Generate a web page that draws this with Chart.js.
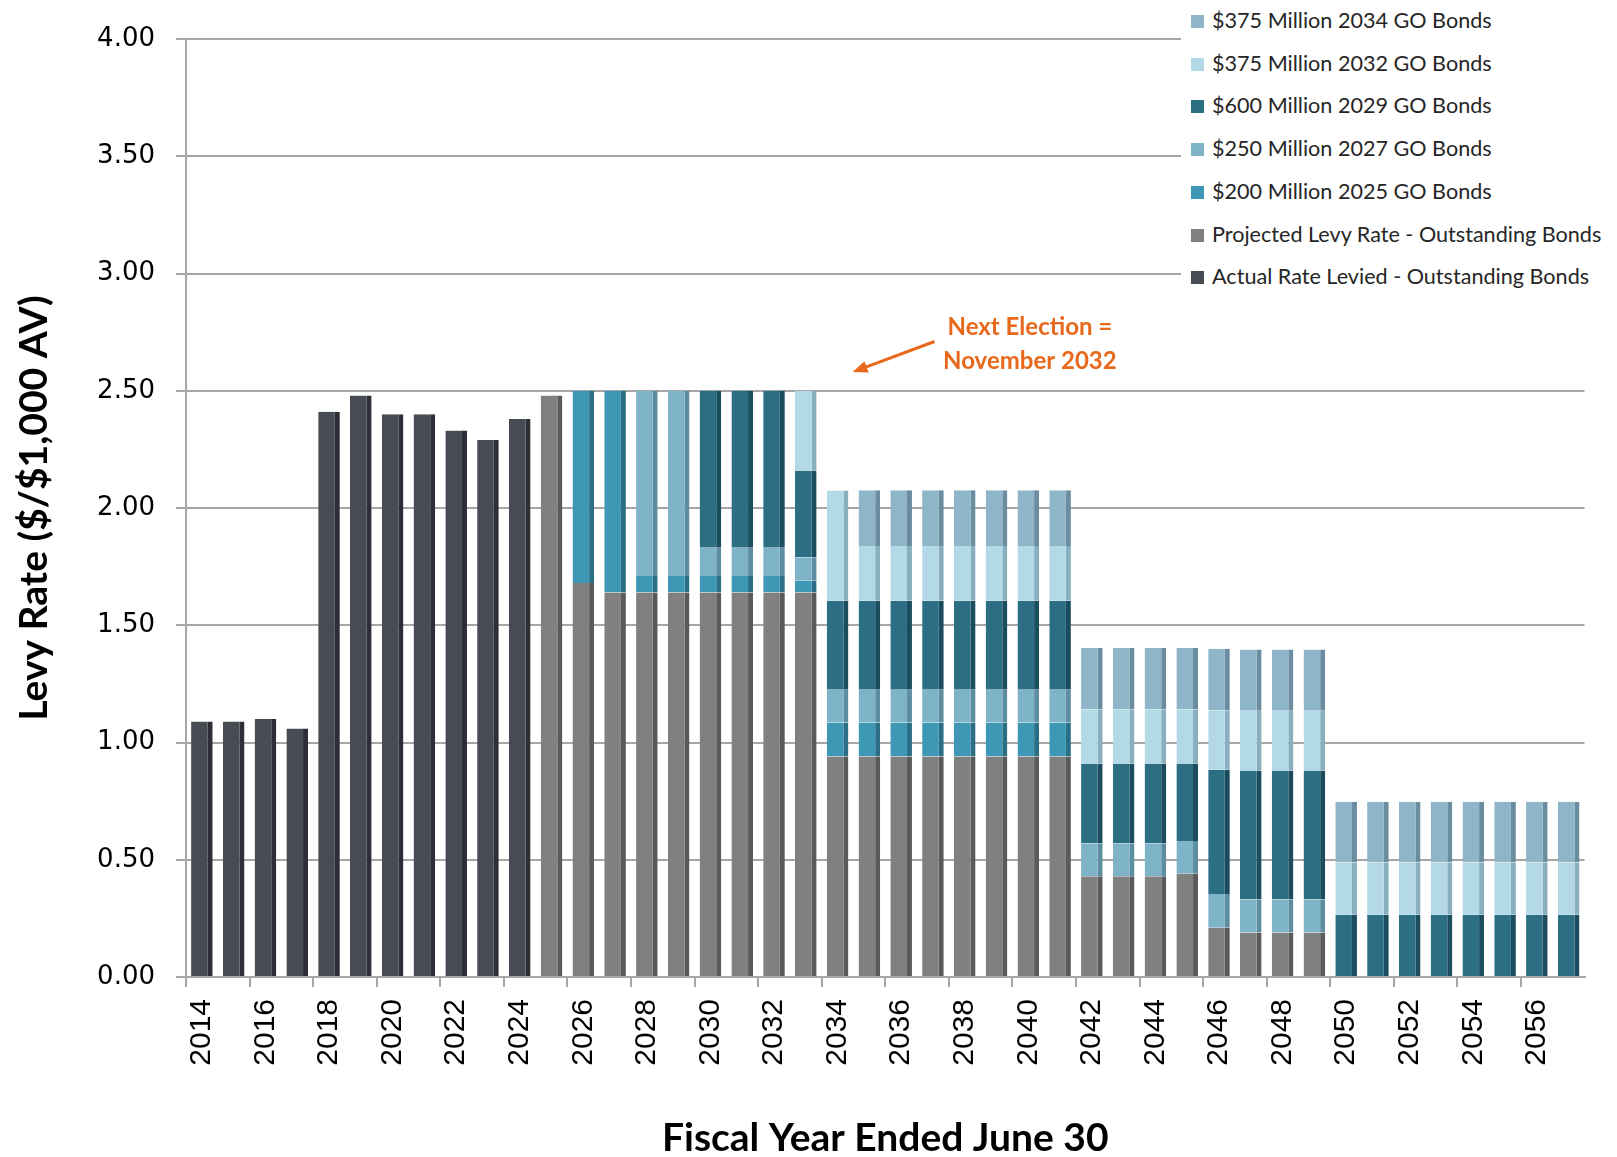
<!DOCTYPE html>
<html><head><meta charset="utf-8">
<script src="https://cdn.jsdelivr.net/npm/chart.js@4.4.1/dist/chart.umd.min.js"></script>
<style>
html,body{margin:0;padding:0;background:#fff;}
#wrap{position:relative;width:1617px;height:1157px;}
#legend{position:absolute;left:1181px;top:0;width:436px;height:295px;background:#fff;font-family:Lato,sans-serif;font-size:21.6px;color:#262626;}
.li{position:absolute;left:10px;height:26px;line-height:26px;white-space:nowrap;}
.sw{display:inline-block;width:13px;height:13px;margin-right:8px;vertical-align:middle;position:relative;top:-1px}
</style></head><body>
<div id="wrap"><canvas id="c" width="1617" height="1157"></canvas><div id="legend"></div></div>
<script>
const years = ['2014','2015','2016','2017','2018','2019','2020','2021','2022','2023','2024','2025','2026','2027','2028','2029','2030','2031','2032','2033','2034','2035','2036','2037','2038','2039','2040','2041','2042','2043','2044','2045','2046','2047','2048','2049','2050','2051','2052','2053','2054','2055','2056','2057'];
const actualRate = [1.09,1.09,1.10,1.06,2.41,2.48,2.40,2.40,2.33,2.29,2.38,null,null,null,null,null,null,null,null,null,null,null,null,null,null,null,null,null,null,null,null,null,null,null,null,null,null,null,null,null,null,null,null,null];
const projectedRate = [null,null,null,null,null,null,null,null,null,null,null,2.48,1.68,1.64,1.64,1.64,1.64,1.64,1.64,1.64,0.94,0.94,0.94,0.94,0.94,0.94,0.94,0.94,0.43,0.43,0.43,0.44,0.21,0.19,0.19,0.19,null,null,null,null,null,null,null,null];
const bonds2025 = [null,null,null,null,null,null,null,null,null,null,null,null,0.82,0.86,0.07,0.07,0.07,0.07,0.07,0.05,0.145,0.145,0.145,0.145,0.145,0.145,0.145,0.145,null,null,null,null,null,null,null,null,null,null,null,null,null,null,null,null];
const bonds2027 = [null,null,null,null,null,null,null,null,null,null,null,null,null,null,0.79,0.79,0.12,0.12,0.12,0.10,0.14,0.14,0.14,0.14,0.14,0.14,0.14,0.14,0.14,0.14,0.14,0.14,0.144,0.141,0.141,0.141,null,null,null,null,null,null,null,null];
const bonds2029 = [null,null,null,null,null,null,null,null,null,null,null,null,null,null,null,null,0.67,0.67,0.67,0.37,0.38,0.38,0.38,0.38,0.38,0.38,0.38,0.38,0.34,0.34,0.34,0.33,0.53,0.55,0.55,0.55,0.265,0.265,0.265,0.265,0.265,0.265,0.265,0.265];
const bonds2032 = [null,null,null,null,null,null,null,null,null,null,null,null,null,null,null,null,null,null,null,0.34,0.47,0.233,0.233,0.233,0.233,0.233,0.233,0.233,0.232,0.232,0.232,0.232,0.254,0.254,0.254,0.254,0.223,0.223,0.223,0.223,0.223,0.223,0.223,0.223];
const bonds2034 = [null,null,null,null,null,null,null,null,null,null,null,null,null,null,null,null,null,null,null,null,null,0.238,0.238,0.238,0.238,0.238,0.238,0.238,0.262,0.262,0.262,0.262,0.262,0.262,0.262,0.262,0.259,0.259,0.259,0.259,0.259,0.259,0.259,0.259];
const seriesLabels = ['Actual Rate Levied - Outstanding Bonds','Projected Levy Rate - Outstanding Bonds','$200 Million 2025 GO Bonds','$250 Million 2027 GO Bonds','$600 Million 2029 GO Bonds','$375 Million 2032 GO Bonds','$375 Million 2034 GO Bonds'];
const yTicks = [0,0.5,1,1.5,2,2.5,3,3.5,4];
const noteLines = ['Next Election =','November 2032'];

const faceColors = ['#474B54','#808080','#3E97B5','#7FB3C8','#2C6F85','#B3D9E6','#8FB5C8'];
const sideColors = ['#2C2F35','#5A5A5A','#2B6F87','#5D8DA0','#1C4D5E','#87AFBD','#6A8DA0'];
const seriesData = [actualRate, projectedRate, bonds2025, bonds2027, bonds2029, bonds2032, bonds2034];

const datasets = seriesData.map((d,i)=>({
  label: seriesLabels[i], data: d,
  backgroundColor: faceColors[i], borderColor: sideColors[i],
  borderWidth: {left:0, right:5, top:0, bottom:0}, borderSkipped: false,
  barPercentage: 0.68, categoryPercentage: 1.0
}));

const annotationPlugin = {
  id: 'note',
  afterDatasetsDraw(chart){
    const ctx = chart.ctx, xs = chart.scales.x, ys = chart.scales.y;
    const orange = '#E8691C';
    ctx.save();
    ctx.fillStyle = orange;
    ctx.font = 'bold 24px Lato';
    ctx.textAlign = 'center'; ctx.textBaseline = 'middle';
    const tx = xs.getPixelForValue(26.05);
    ctx.fillText(noteLines[0], tx, ys.getPixelForValue(2.77));
    ctx.fillText(noteLines[1], tx, ys.getPixelForValue(2.625));
    const x1 = xs.getPixelForValue(23.05), y1 = ys.getPixelForValue(2.71);
    const x2 = xs.getPixelForValue(20.47), y2 = ys.getPixelForValue(2.58);
    const ang = Math.atan2(y2-y1, x2-x1);
    ctx.strokeStyle = orange; ctx.lineWidth = 3;
    ctx.beginPath(); ctx.moveTo(x1,y1); ctx.lineTo(x2-12*Math.cos(ang), y2-12*Math.sin(ang)); ctx.stroke();
    ctx.beginPath();
    ctx.moveTo(x2,y2);
    ctx.lineTo(x2-15*Math.cos(ang)+6*Math.sin(ang), y2-15*Math.sin(ang)-6*Math.cos(ang));
    ctx.lineTo(x2-15*Math.cos(ang)-6*Math.sin(ang), y2-15*Math.sin(ang)+6*Math.cos(ang));
    ctx.closePath(); ctx.fill();
    ctx.restore();
  }
};

const chart = new Chart(document.getElementById('c'), {
  type: 'bar',
  data: { labels: years, datasets },
  plugins: [annotationPlugin],
  options: {
    responsive: false, animation: false,
    layout: { padding: { top: 39, right: 31, left: 0, bottom: 0 } },
    plugins: { legend: { display: false }, tooltip: { enabled: false } },
    scales: {
      x: {
        stacked: true,
        grid: { drawOnChartArea: false, drawTicks: true, tickLength: 10, offset: true, lineWidth: 2,
                color: (c) => (c.index % 2 === 0 ? '#A6A6A6' : 'rgba(0,0,0,0)') },
        border: { color: '#A6A6A6', width: 2 },
        ticks: { autoSkip: false, minRotation: 90, maxRotation: 90, padding: 12, color: '#000',
                 font: { family: 'Liberation Sans', size: 30 },
                 callback: (v, i) => (i % 2 === 0 ? years[i] : '') },
        title: { display: true, text: 'Fiscal Year Ended June 30', color: '#000',
                 font: { family: 'Lato', weight: 'bold', size: 39 }, padding: { top: 0, bottom: -5 } },
        afterFit: (s) => { s.height = 180; }
      },
      y: {
        stacked: true, min: 0, max: 4,
        afterBuildTicks: (s) => { s.ticks = yTicks.map(v => ({ value: v })); },
        grid: { color: '#A6A6A6', lineWidth: 2, tickLength: 10, drawTicks: true },
        border: { color: '#A6A6A6', width: 2 },
        ticks: { padding: 21, color: '#000', font: { family: 'DejaVu Sans', size: 26 },
                 callback: (v) => Number(v).toFixed(2) },
        title: { display: true, text: 'Levy Rate ($/$1,000 AV)', color: '#000',
                 font: { family: 'Lato', weight: 'bold', size: 39 }, padding: { top: 11, bottom: 0 } },
        afterFit: (s) => { s.width = 186; }
      }
    }
  }
});

// legend (top-right, reversed order like the original)
const legendTops = [20, 63, 105, 148, 191, 234, 276];
const lg = document.getElementById('legend');
chart.data.datasets.slice().reverse().forEach((ds, k) => {
  const d = document.createElement('div');
  d.className = 'li';
  d.style.top = (legendTops[k] - 13) + 'px';
  const sw = document.createElement('span');
  sw.className = 'sw'; sw.style.background = ds.backgroundColor;
  d.appendChild(sw);
  d.appendChild(document.createTextNode(ds.label));
  lg.appendChild(d);
});
</script>
</body></html>
